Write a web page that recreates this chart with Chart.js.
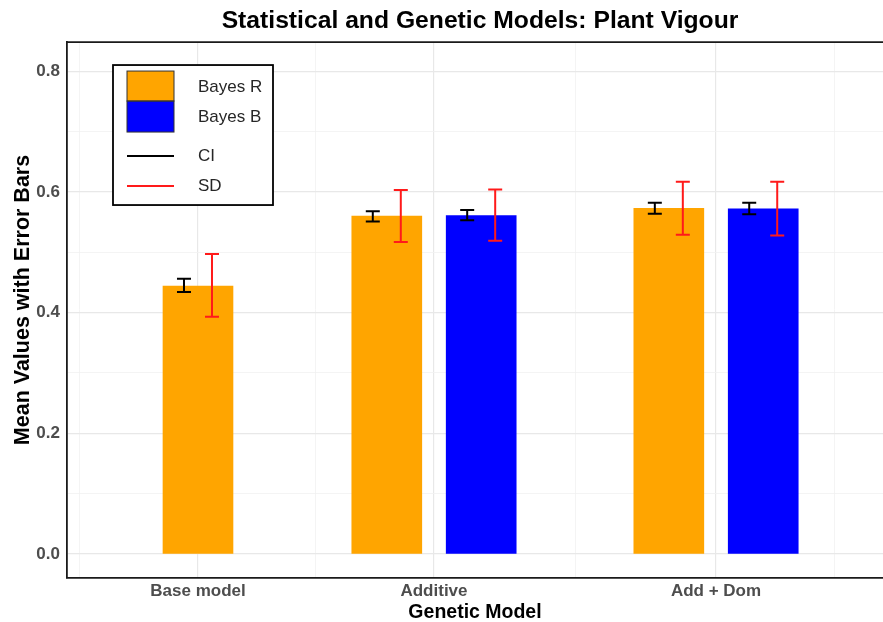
<!DOCTYPE html>
<html>
<head>
<meta charset="utf-8">
<script src="https://cdn.jsdelivr.net/npm/chart.js@4.4.1/dist/chart.umd.min.js"></script>
<style>
  html, body { margin: 0; padding: 0; background: #ffffff; }
  #wrap { width: 883px; height: 622px; }
</style>
</head>
<body>
<div id="wrap"><canvas id="c" width="883" height="622"></canvas></div>
<script>
// ---- data ----
const categories = ['Base model', 'Additive', 'Add + Dom'];
const categoryX = [1, 2, 3.195];
const seriesNames = ['Bayes R', 'Bayes B'];
const bayesR = [0.444, 0.560, 0.573];
const bayesB = [null, 0.561, 0.572];
const bayesRciLow = [0.434, 0.551, 0.564];
const bayesRciHigh = [0.456, 0.568, 0.582];
const bayesBciLow = [null, 0.553, 0.563];
const bayesBciHigh = [null, 0.570, 0.582];
const bayesRsdLow = [0.393, 0.517, 0.529];
const bayesRsdHigh = [0.497, 0.603, 0.617];
const bayesBsdLow = [null, 0.519, 0.528];
const bayesBsdHigh = [null, 0.604, 0.617];
const yTicks = [0, 0.2, 0.4, 0.6, 0.8];

const FONT = "'Liberation Sans', Arial, Helvetica, sans-serif";
const DODGE = 0.2;
const Y_TITLE = 'Mean Values with Error Bars';

function barPoints(vals, side) {
  const pts = [];
  vals.forEach((v, i) => {
    if (v == null) return;
    const paired = bayesR[i] != null && bayesB[i] != null;
    pts.push({ x: categoryX[i] + (paired ? side * DODGE : 0), y: v, idx: i });
  });
  return pts;
}

const errorSets = [
  { ciLow: bayesRciLow, ciHigh: bayesRciHigh, sdLow: bayesRsdLow, sdHigh: bayesRsdHigh },
  { ciLow: bayesBciLow, ciHigh: bayesBciHigh, sdLow: bayesBsdLow, sdHigh: bayesBsdHigh }
];

// minor breaks half-way between major ones
const xMinor = [];
for (let i = 0; i < categoryX.length; i++) {
  if (i === 0) xMinor.push(categoryX[0] - 0.5);
  else xMinor.push((categoryX[i - 1] + categoryX[i]) / 2);
}
xMinor.push(categoryX[categoryX.length - 1] + 0.5);
const yMinor = [];
for (let i = 0; i < yTicks.length - 1; i++) yMinor.push((yTicks[i] + yTicks[i + 1]) / 2);

function isMajorX(v) { return categoryX.some(c => Math.abs(c - v) < 1e-6); }
function isMajorY(v) { return yTicks.some(c => Math.abs(c - v) < 1e-6); }
function tickVal(c) { return c && c.tick ? c.tick.value : NaN; }

const errorBarPlugin = {
  id: 'errorBars',
  afterDatasetsDraw(chart) {
    const ctx = chart.ctx;
    const yScale = chart.scales.y;
    chart.data.datasets.forEach((ds, di) => {
      const meta = chart.getDatasetMeta(di);
      const es = errorSets[di];
      meta.data.forEach((el, j) => {
        const idx = ds.data[j].idx;
        const w = el.width;
        const draw = (lo, hi, cx, color) => {
          if (lo == null || hi == null) return;
          const y1 = yScale.getPixelForValue(lo);
          const y2 = yScale.getPixelForValue(hi);
          const cap = w * 0.1;
          ctx.save();
          ctx.strokeStyle = color;
          ctx.lineWidth = 2;
          ctx.beginPath();
          ctx.moveTo(cx, y1); ctx.lineTo(cx, y2);
          ctx.moveTo(cx - cap, y1); ctx.lineTo(cx + cap, y1);
          ctx.moveTo(cx - cap, y2); ctx.lineTo(cx + cap, y2);
          ctx.stroke();
          ctx.restore();
        };
        draw(es.ciLow[idx], es.ciHigh[idx], el.x - w * 0.2, '#000000');
        draw(es.sdLow[idx], es.sdHigh[idx], el.x + w * 0.2, '#ff1a1a');
      });
    });
  }
};

const framePlugin = {
  id: 'frame',
  afterLayout(chart) {
    // centre the title over the (wider, cropped) panel like the reference
    if (chart.titleBlock) { chart.titleBlock.left += 10; }
  },
  afterDraw(chart) {
    const ctx = chart.ctx;
    const a = chart.chartArea;
    ctx.save();
    ctx.strokeStyle = '#1a1a1a';
    ctx.lineWidth = 1.8;
    ctx.beginPath();
    ctx.moveTo(a.left, a.top); ctx.lineTo(chart.width, a.top);
    ctx.stroke();
    ctx.restore();

    // y-axis title
    ctx.save();
    ctx.translate(23, (a.top + a.bottom) / 2 - 10);
    ctx.rotate(-Math.PI / 2);
    ctx.fillStyle = '#000000';
    ctx.font = 'bold 21.5px ' + FONT;
    ctx.textAlign = 'center';
    ctx.textBaseline = 'middle';
    ctx.fillText(Y_TITLE, 0, 0);
    ctx.restore();

    // legend
    const L = a.left + 46, T = a.top + 23;
    ctx.save();
    ctx.fillStyle = '#ffffff';
    ctx.fillRect(L, T, 160, 140);
    ctx.strokeStyle = '#000000';
    ctx.lineWidth = 1.8;
    ctx.strokeRect(L, T, 160, 140);
    const sx = L + 14, sw = 47;
    const colors = chart.data.datasets.map(d => d.backgroundColor);
    ctx.fillStyle = colors[0]; ctx.fillRect(sx, T + 6, sw, 30);
    ctx.fillStyle = colors[1]; ctx.fillRect(sx, T + 36, sw, 31);
    ctx.strokeStyle = '#333333'; ctx.lineWidth = 1;
    ctx.strokeRect(sx, T + 6, sw, 30);
    ctx.strokeRect(sx, T + 36, sw, 31);
    ctx.lineWidth = 2;
    ctx.strokeStyle = '#000000';
    ctx.beginPath(); ctx.moveTo(sx, T + 91); ctx.lineTo(sx + sw, T + 91); ctx.stroke();
    ctx.strokeStyle = '#ff1a1a';
    ctx.beginPath(); ctx.moveTo(sx, T + 121); ctx.lineTo(sx + sw, T + 121); ctx.stroke();
    ctx.fillStyle = '#262626';
    ctx.font = '17px ' + FONT;
    ctx.textAlign = 'left';
    ctx.textBaseline = 'middle';
    const tx = L + 85;
    ctx.fillText(seriesNames[0], tx, T + 22);
    ctx.fillText(seriesNames[1], tx, T + 52);
    ctx.fillText('CI', tx, T + 91);
    ctx.fillText('SD', tx, T + 121);
    ctx.restore();
  }
};

new Chart(document.getElementById('c'), {
  type: 'bar',
  data: {
    datasets: [
      { label: seriesNames[0], data: barPoints(bayesR, -1), backgroundColor: '#FFA500', borderWidth: 0 },
      { label: seriesNames[1], data: barPoints(bayesB, 1), backgroundColor: '#0000FF', borderWidth: 0 }
    ]
  },
  options: {
    responsive: false,
    animation: false,
    events: [],
    layout: { padding: { left: 0, right: 0, top: 0, bottom: 0 } },
    datasets: { bar: { barThickness: 70, grouped: false } },
    plugins: {
      legend: { display: false },
      tooltip: { enabled: false },
      title: {
        display: true,
        fullSize: false,
        text: 'Statistical and Genetic Models: Plant Vigour',
        color: '#000000',
        font: { family: FONT, size: 24.7, weight: 'bold', lineHeight: 1.2 },
        padding: { top: 6, bottom: 6.4 }
      }
    },
    scales: {
      x: {
        type: 'linear',
        offset: false,
        min: 0.445,
        max: 3.9025,
        afterBuildTicks(scale) {
          const vals = categoryX.concat(xMinor).sort((a, b) => a - b);
          scale.ticks = vals.map(v => ({ value: v }));
        },
        afterFit(scale) { scale.height = 44; },
        ticks: {
          autoSkip: false,
          maxRotation: 0,
          padding: 3.5,
          color: '#4d4d4d',
          font: { family: FONT, size: 17, weight: 'bold' },
          callback(v) {
            const i = categoryX.findIndex(c => Math.abs(c - v) < 1e-6);
            return i >= 0 ? categories[i] : '';
          }
        },
        grid: {
          offset: false,
          drawTicks: false,
          color: c => isMajorX(tickVal(c)) ? '#e8e8e8' : '#f1f1f1',
          lineWidth: c => isMajorX(tickVal(c)) ? 1.2 : 0.8
        },
        border: { display: true, color: '#1a1a1a', width: 1.8 },
        title: {
          display: true,
          text: 'Genetic Model',
          color: '#000000',
          font: { family: FONT, size: 19.5, weight: 'bold', lineHeight: 1 },
          padding: { top: 0, bottom: -0.5 }
        }
      },
      y: {
        min: -0.0398,
        max: 0.8484,
        afterBuildTicks(scale) {
          const vals = yTicks.concat(yMinor).sort((a, b) => a - b);
          scale.ticks = vals.map(v => ({ value: v }));
        },
        afterFit(scale) { scale.width = 67; },
        ticks: {
          padding: 7,
          color: '#4d4d4d',
          font: { family: FONT, size: 17, weight: 'bold' },
          callback(v) { return isMajorY(v) ? v.toFixed(1) : ''; }
        },
        grid: {
          drawTicks: false,
          color: c => isMajorY(tickVal(c)) ? '#e8e8e8' : '#f1f1f1',
          lineWidth: c => isMajorY(tickVal(c)) ? 1.2 : 0.8
        },
        border: { display: true, color: '#1a1a1a', width: 1.8 },
        title: { display: false }
      }
    }
  },
  plugins: [errorBarPlugin, framePlugin]
});
</script>
</body>
</html>
